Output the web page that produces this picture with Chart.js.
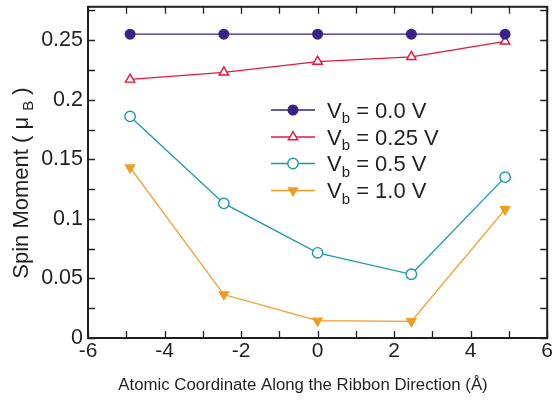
<!DOCTYPE html>
<html>
<head>
<meta charset="utf-8">
<script src="https://cdn.jsdelivr.net/npm/chart.js@4.4.0/dist/chart.umd.min.js"></script>
<style>
  html, body { margin: 0; padding: 0; background: #fff; }
  #wrap { width: 554px; height: 401px; }
</style>
</head>
<body>
<div id="wrap"><canvas id="chart" width="554" height="401"></canvas></div>
<script>
// datos
const coords      = [-4.9, -2.45, 0, 2.45, 4.9];
const spin00      = [0.255, 0.255, 0.255, 0.255, 0.255];
const spin025     = [0.217, 0.223, 0.232, 0.236, 0.249];
const spin05      = [0.186, 0.113, 0.0715, 0.0535, 0.135];
const spin10      = [0.143, 0.0365, 0.0145, 0.014, 0.108];
const biasLabels  = ['0.0', '0.25', '0.5', '1.0'];
const xTicks      = [-6, -4, -2, 0, 2, 4, 6];
const xMinor      = [-5, -3, -1, 1, 3, 5];
const yTicks      = [0, 0.05, 0.1, 0.15, 0.2, 0.25];
const yTickLabels = ['0', '0.05', '0.1', '0.15', '0.2', '0.25'];
const yMinor      = [0.025, 0.075, 0.125, 0.175, 0.225, 0.275];

const FONT = '"Liberation Sans", Arial, Helvetica, sans-serif';
const INK  = '#231f20';

const STYLES = [
  { color: '#3a2186', pointStyle: 'circle',   radius: 4.8, fill: '#3a2186', rotation: 0   },
  { color: '#e5173a', pointStyle: 'triangle', radius: 5.4, fill: '#ffffff', rotation: 0   },
  { color: '#1b9aa8', pointStyle: 'circle',   radius: 5.2, fill: '#ffffff', rotation: 0   },
  { color: '#f09c22', pointStyle: 'triangle', radius: 5.2, fill: '#f09c22', rotation: 180 },
];

const series = [spin00, spin025, spin05, spin10];

const datasets = series.map((vals, i) => ({
  label:                `Vb = ${biasLabels[i]} V`,
  data:                 coords.map((x, k) => ({ x, y: vals[k] })),
  borderColor:          STYLES[i].color,
  borderWidth:          1.3,
  pointStyle:           STYLES[i].pointStyle,
  pointRadius:          STYLES[i].radius,
  pointRotation:        STYLES[i].rotation,
  pointBackgroundColor: STYLES[i].fill,
  pointBorderColor:     STYLES[i].color,
  pointBorderWidth:     1.4,
  fill:                 false,
  tension:              0,
  clip:                 false,
}));

function drawTicks(ctx, area, xs, ys) {
  const len = 7;
  ctx.save();
  ctx.strokeStyle = INK;
  ctx.lineWidth = 1.3;
  ctx.beginPath();
  for (const v of [...xTicks, ...xMinor]) {
    const px = Math.round(xs.getPixelForValue(v)) + 0.5;
    ctx.moveTo(px, area.bottom); ctx.lineTo(px, area.bottom - len);
    ctx.moveTo(px, area.top);    ctx.lineTo(px, area.top + len);
  }
  for (const v of [...yTicks, ...yMinor]) {
    const py = Math.round(ys.getPixelForValue(v)) + 0.5;
    ctx.moveTo(area.left, py);  ctx.lineTo(area.left + len, py);
    ctx.moveTo(area.right, py); ctx.lineTo(area.right - len, py);
  }
  ctx.stroke();
  ctx.lineWidth = 2;
  ctx.strokeRect(area.left, area.top, area.right - area.left, area.bottom - area.top);
  ctx.restore();
}

function drawTitles(ctx) {
  ctx.save();
  ctx.fillStyle = INK;
  ctx.textBaseline = 'alphabetic';

  // eje x
  ctx.font = `16.8px ${FONT}`;
  ctx.textAlign = 'center';
  ctx.fillText('Atomic Coordinate Along the Ribbon Direction (Å)', 303, 390);

  // eje y (rotado, con subindice B)
  ctx.translate(28, 183);
  ctx.rotate(-Math.PI / 2);
  ctx.textAlign = 'left';
  const big = `22px ${FONT}`, small = `15px ${FONT}`;
  const a = 'Spin Moment ( \u03bc ', b = 'B', c = ' )';
  ctx.font = big;   const wa = ctx.measureText(a).width, wc = ctx.measureText(c).width;
  ctx.font = small; const wb = ctx.measureText(b).width;
  let x = -(wa + wb + wc) / 2;
  ctx.font = big;   ctx.fillText(a, x, 0); x += wa;
  ctx.font = small; ctx.fillText(b, x, 5); x += wb;
  ctx.font = big;   ctx.fillText(c, x, 0);
  ctx.restore();
}

function drawLegend(ctx) {
  const rows = [110, 137, 163.5, 190.5];
  ctx.save();
  rows.forEach((y, i) => {
    const st = STYLES[i];
    ctx.strokeStyle = st.color;
    ctx.lineWidth = 1.3;
    ctx.beginPath();
    ctx.moveTo(271, y); ctx.lineTo(315, y);
    ctx.stroke();
    ctx.fillStyle = st.fill;
    ctx.lineWidth = 1.4;
    Chart.helpers.drawPoint(ctx, {
      pointStyle: st.pointStyle, radius: st.radius, rotation: st.rotation, borderWidth: 1.4,
    }, 293, y);

    ctx.fillStyle = INK;
    ctx.textAlign = 'left';
    ctx.textBaseline = 'alphabetic';
    let x = 327;
    ctx.font = `22px ${FONT}`;
    ctx.fillText('V', x, y + 7.5); x += ctx.measureText('V').width;
    ctx.font = `15px ${FONT}`;
    ctx.fillText('b', x, y + 13); x += ctx.measureText('b').width;
    ctx.font = `22px ${FONT}`;
    ctx.fillText(` = ${biasLabels[i]} V`, x, y + 7.5);
  });
  ctx.restore();
}

const framePlugin = {
  id: 'frame',
  afterDraw(chart) {
    const { ctx, chartArea, scales } = chart;
    drawTicks(ctx, chartArea, scales.x, scales.y);
    drawTitles(ctx);
    drawLegend(ctx);
  },
};

new Chart(document.getElementById('chart'), {
  type: 'line',
  data: { datasets },
  plugins: [framePlugin],
  options: {
    responsive:       false,
    devicePixelRatio: 1,
    animation:        false,
    layout: { padding: { left: 0, right: 6, top: 5, bottom: 0 } },
    plugins: {
      legend:  { display: false },
      tooltip: { enabled: false },
    },
    scales: {
      x: {
        type: 'linear',
        min: -6, max: 6,
        afterBuildTicks: s => { s.ticks = xTicks.map(v => ({ value: v })); },
        afterFit: s => { s.height = 63; s.paddingLeft = 0; s.paddingRight = 0; },
        grid:   { display: false, drawTicks: false },
        border: { display: false },
        ticks:  { font: { family: FONT, size: 21 }, color: INK, padding: 1, maxRotation: 0 },
      },
      y: {
        type: 'linear',
        min: 0, max: 0.278,
        afterBuildTicks: s => { s.ticks = yTicks.map(v => ({ value: v })); },
        afterFit: s => { s.width = 88; s.paddingTop = 0; s.paddingBottom = 0; },
        grid:   { display: false, drawTicks: false },
        border: { display: false },
        ticks:  {
          font: { family: FONT, size: 21.5 }, color: INK, padding: 5,
          callback: (v, i) => yTickLabels[i],
        },
      },
    },
  },
});
</script>
</body>
</html>
